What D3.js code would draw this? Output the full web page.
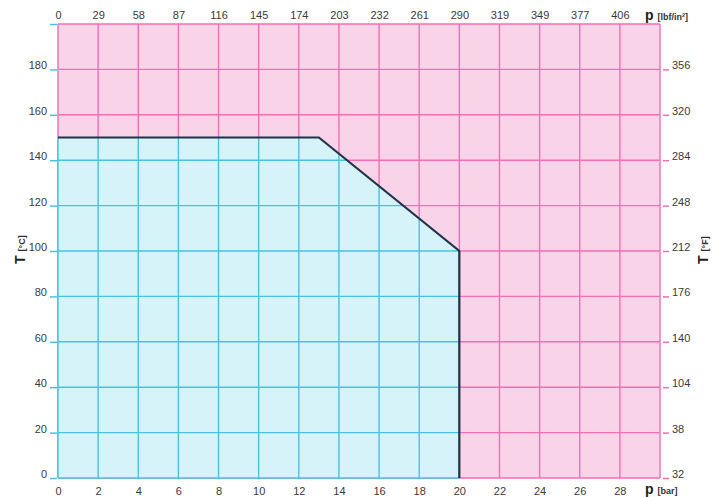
<!DOCTYPE html>
<html>
<head>
<meta charset="utf-8">
<script src="https://cdn.jsdelivr.net/npm/d3@7"></script>
<style>
  body { margin: 0; background: #fff; }
  text { font-family: "Liberation Sans", Arial, sans-serif; fill: #333; }
</style>
</head>
<body>
<div id="chart"></div>
<script>
// Data
const barTicks = [0, 2, 4, 6, 8, 10, 12, 14, 16, 18, 20, 22, 24, 26, 28];
const psiLabels = ["0", "29", "58", "87", "116", "145", "174", "203", "232", "261", "290", "319", "349", "377", "406"];
const celsiusTicks = [0, 20, 40, 60, 80, 100, 120, 140, 160, 180];
const fahrenheitLabels = ["32", "38", "104", "140", "176", "212", "248", "284", "320", "356"];
const gridP = [0, 2, 4, 6, 8, 10, 12, 14, 16, 18, 20, 22, 24, 26, 28, 30];
const gridT = [0, 20, 40, 60, 80, 100, 120, 140, 160, 180, 200];
const envelope = [
  { p: 0, t: 150 },
  { p: 13, t: 150 },
  { p: 20, t: 100 },
  { p: 20, t: 0 }
];

const width = 722, height = 497;
const pink = "#f9d4e9", pinkLine = "#f56db5",
      blue = "#d6f3fa", blueLine = "#48c2e2",
      outline = "#1f3449";

const x = d3.scaleLinear().domain([0, 30]).range([58, 660]);
const y = d3.scaleLinear().domain([0, 200]).range([478, 24]);

const svg = d3.select("#chart").append("svg")
    .attr("width", width)
    .attr("height", height);

function drawGrid(g, color) {
  g.selectAll(".v").data(gridP).enter().append("line")
      .attr("x1", d => x(d)).attr("x2", d => x(d))
      .attr("y1", y(0)).attr("y2", y(200))
      .style("stroke", color).style("stroke-width", 1.4);
  g.selectAll(".h").data(gridT).enter().append("line")
      .attr("x1", x(0)).attr("x2", x(30))
      .attr("y1", d => y(d)).attr("y2", d => y(d))
      .style("stroke", color).style("stroke-width", 1.4);
}

// Background + pink grid
svg.append("rect")
    .attr("x", x(0)).attr("y", y(200))
    .attr("width", x(30) - x(0)).attr("height", y(0) - y(200))
    .style("fill", pink);

drawGrid(svg.append("g").attr("class", "pinkGrid"), pinkLine);

// Envelope area (covers the pink grid)
const areaPts = [{ p: 0, t: 0 }].concat(envelope);
const poly = d => d.map(e => x(e.p) + "," + y(e.t)).join(" ");

svg.append("polygon")
    .attr("points", poly(areaPts))
    .style("fill", blue);

// Clip for the blue grid (a bit wider on the outer edges)
svg.append("clipPath").attr("id", "envClip")
  .append("polygon")
    .attr("points", [
      [x(0) - 2, y(0) + 2], [x(0) - 2, y(150)], [x(13), y(150)],
      [x(20), y(100)], [x(20), y(0) + 2]
    ].map(d => d.join(",")).join(" "));

drawGrid(svg.append("g").attr("class", "blueGrid").attr("clip-path", "url(#envClip)"), blueLine);

// Envelope outline
svg.append("path")
    .datum(envelope)
    .attr("d", d3.line().x(d => x(d.p)).y(d => y(d.t)))
    .style("fill", "none")
    .style("stroke", outline)
    .style("stroke-width", 2.2)
    .style("stroke-linejoin", "miter");

// Axes
function styleAxis(g, tickColor) {
  g.select(".domain").remove();
  g.selectAll(".tick line").style("stroke", tickColor).style("stroke-width", 1.5);
  g.selectAll(".tick text")
      .style("font-family", "'Liberation Sans', Arial, sans-serif")
      .style("font-size", "11px")
      .style("fill", "#3a3a3a");
}

const leftAxis = d3.axisLeft(y)
    .tickValues(celsiusTicks.concat([200]))
    .tickFormat(d => d === 200 ? "" : d)
    .tickSize(7).tickPadding(3);
svg.append("g")
    .attr("transform", "translate(" + (x(0) - 1) + ",0)")
    .call(leftAxis)
    .call(g => styleAxis(g, blueLine))
    .call(g => g.selectAll(".tick text").attr("dy", "-0.05em"));

const rightAxis = d3.axisRight(y)
    .tickValues(celsiusTicks)
    .tickFormat((d, i) => fahrenheitLabels[i])
    .tickSize(6).tickPadding(3);
svg.append("g")
    .attr("transform", "translate(" + (x(30) + 3) + ",0)")
    .call(rightAxis)
    .call(g => styleAxis(g, pinkLine))
    .call(g => g.selectAll(".tick text").attr("dy", "-0.05em"));

const bottomAxis = d3.axisBottom(x)
    .tickValues(barTicks)
    .tickSize(0).tickPadding(9);
svg.append("g")
    .attr("transform", "translate(0," + y(0) + ")")
    .call(bottomAxis)
    .call(g => styleAxis(g, "none"));

const topAxis = d3.axisTop(x)
    .tickValues(barTicks)
    .tickFormat((d, i) => psiLabels[i])
    .tickSize(0).tickPadding(5);
svg.append("g")
    .attr("transform", "translate(0," + y(200) + ")")
    .call(topAxis)
    .call(g => styleAxis(g, "none"));

// Axis titles
function unitLabel(g, main, unit) {
  g.append("tspan").text(main)
      .style("font-weight", "bold").style("font-size", "14px").style("fill", "#222");
  g.append("tspan").text(unit)
      .attr("dx", 4)
      .style("font-size", "9px").style("font-weight", "bold").style("fill", "#333");
}

svg.append("text")
    .attr("x", 645).attr("y", 20)
    .call(g => unitLabel(g, "p", "[lbf/in²]"));

svg.append("text")
    .attr("x", 645).attr("y", 494)
    .call(g => unitLabel(g, "p", "[bar]"));

svg.append("text")
    .attr("transform", "translate(25,264) rotate(-90)")
    .call(g => unitLabel(g, "T", "[°C]"));

svg.append("text")
    .attr("transform", "translate(708,264) rotate(-90)")
    .call(g => unitLabel(g, "T", "[°F]"));
</script>
</body>
</html>
